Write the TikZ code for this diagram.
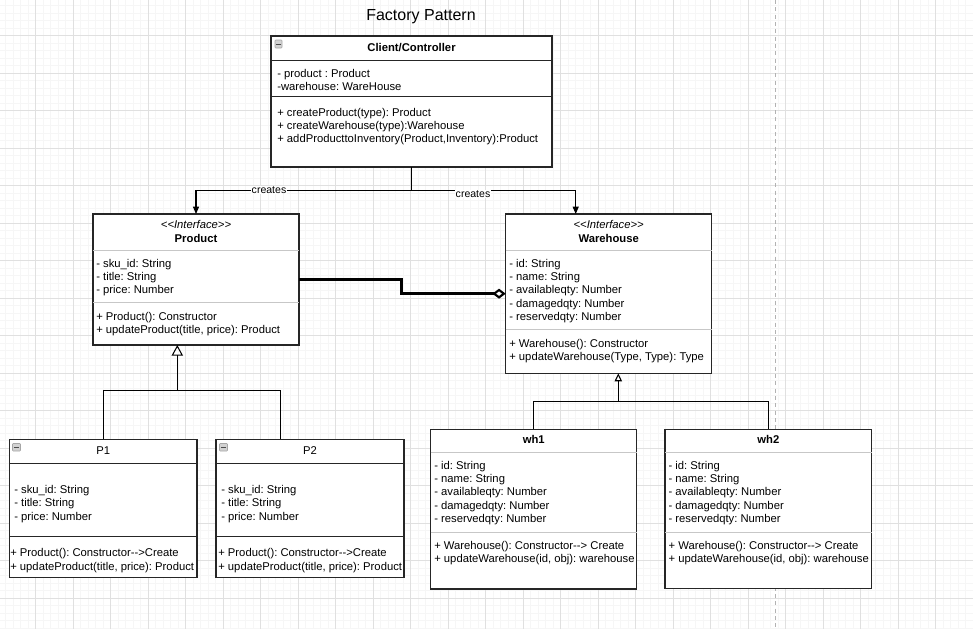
\documentclass[tikz,border=0pt]{standalone}
\usepackage{fontspec}
\newfontfamily\umlfont{Liberation Sans}
\usetikzlibrary{arrows.meta,fit}
\frenchspacing
\newcommand{\umlrows}[4]{\foreach \t [count=\i] in {#4}{\node[txt, anchor=base west] (#1\i) at (#2,{#3+4+13.45*(\i-1)}) {\frenchspacing\t};}}
\begin{document}
\begin{tikzpicture}[x=0.75pt,y=-0.75pt,
  minorgrid/.style={draw=black!3.5, line width=0.4pt},
  majorgrid/.style={draw=black!12, line width=0.6pt},
  classbox/.style={draw=black!85, fill=white, line width=0.8pt, inner sep=0pt, outer sep=0pt},
  divdark/.style={draw=black!85, line width=0.7pt},
  divlight/.style={draw=black!22, line width=0.75pt},
  txt/.style={font=\fontsize{8.45}{10}\umlfont, inner sep=0pt, text=black},
  hdr/.style={font=\fontsize{8.45}{10}\umlfont\bfseries, inner sep=0pt},
  hdrn/.style={font=\fontsize{8.45}{10}\umlfont, inner sep=0pt},
  ster/.style={font=\fontsize{8.45}{10}\umlfont\itshape, inner sep=0pt},
  conn/.style={draw=black, line width=0.8pt},
  lbl/.style={font=\fontsize{7.9}{9}\umlfont, fill=white, inner sep=0.6pt},
  icon/.style={draw=gray!70, fill=gray!35, rounded corners=0.5pt, line width=0.4pt},
]
\useasboundingbox[fill=white] (0,0) rectangle (973,629);
% grid
\foreach \k in {0,...,130}{\draw[minorgrid] ({-1.8+7.5*\k},0) -- ({-1.8+7.5*\k},629);}
\foreach \k in {0,...,84}{\draw[minorgrid] (0,{-1.8+7.5*\k}) -- (973,{-1.8+7.5*\k});}
\foreach \k in {0,...,26}{\draw[majorgrid] ({-1.8+37.5*\k},0) -- ({-1.8+37.5*\k},629);}
\foreach \k in {0,...,17}{\draw[majorgrid] (0,{-1.8+37.5*\k}) -- (973,{-1.8+37.5*\k});}
\draw[draw=black!30, line width=0.6pt, dash pattern=on 3pt off 2.5pt] (775,0) -- (775,629);

% title
\node[font=\fontsize{12}{14}\umlfont, inner sep=0pt] (title) at (421,17) {Factory Pattern};

% Client/Controller
\node[classbox, fit={(271,36) (552,167)}] (client) {};
\draw[divdark] (271,60) -- (552,60);
\draw[divdark] (271,96) -- (552,96);
\draw[icon] (275,40) rectangle (282,48);
\draw[black!70, line width=0.6pt] (276.3,44) -- (280.7,44);
\node[hdr] (clientname) at (411.5,48) {Client/Controller};
\umlrows{ca}{277}{73}{- product : Product, -warehouse: WareHouse}
\umlrows{cm}{277}{112}{+ createProduct(type): Product, + createWarehouse(type):Warehouse, {+ addProducttoInventory(Product,Inventory):Product}}

% Product
\node[classbox, fit={(93,214) (299,345)}] (prod) {};
\draw[divlight] (93,250) -- (299,250);
\draw[divlight] (93,302.7) -- (299,302.7);
\node[ster] (prodst) at (196,224) {<{}<Interface>{}>};
\node[hdr] (prodname) at (196,238) {Product};
\umlrows{pa}{96}{263}{- sku\_id: String, - title: String, - price: Number}
\umlrows{pm}{96}{316}{+ Product(): Constructor, {+ updateProduct(title, price): Product}}

% Warehouse
\node[classbox, fit={(505.7,214) (711.7,373.3)}] (wh) {};
\draw[divlight] (505.7,250) -- (711.7,250);
\draw[divlight] (505.7,329.7) -- (711.7,329.7);
\node[ster] (whst) at (608.7,224) {<{}<Interface>{}>};
\node[hdr] (whname) at (608.7,238) {Warehouse};
\umlrows{wa}{509}{263}{- id: String, - name: String, - availableqty: Number, - damagedqty: Number, - reservedqty: Number}
\umlrows{wm}{509}{343}{+ Warehouse(): Constructor, {+ updateWarehouse(Type, Type): Type}}

% P1
\node[classbox, fit={(9.3,439.3) (197,577.7)}] (p1) {};
\draw[divdark] (9.3,463.3) -- (197,463.3);
\draw[divdark] (9.3,536) -- (197,536);
\draw[icon] (12.5,443.5) rectangle (20.5,451);
\draw[black!70, line width=0.6pt] (14,447.2) -- (19,447.2);
\node[hdrn] (p1name) at (103.2,451) {P1};
\umlrows{p1a}{14}{489.3}{- sku\_id: String, - title: String, - price: Number}
\umlrows{p1m}{10}{552.7}{+ Product(): Constructor-\kern0pt-\kern0pt>Create, {+ updateProduct(title, price): Product}}

% P2
\node[classbox, fit={(216,439.3) (404,577.7)}] (p2) {};
\draw[divdark] (216,463.3) -- (404,463.3);
\draw[divdark] (216,536) -- (404,536);
\draw[icon] (219.5,443.5) rectangle (227.5,451);
\draw[black!70, line width=0.6pt] (221,447.2) -- (226,447.2);
\node[hdrn] (p2name) at (310,451) {P2};
\umlrows{p2a}{221}{489.3}{- sku\_id: String, - title: String, - price: Number}
\umlrows{p2m}{218}{552.7}{+ Product(): Constructor-\kern0pt-\kern0pt>Create, {+ updateProduct(title, price): Product}}

% wh1
\node[classbox, fit={(430.7,429.3) (636.7,589)}] (wh1) {};
\draw[divlight] (430.7,452.7) -- (636.7,452.7);
\draw[divlight] (430.7,532.3) -- (636.7,532.3);
\node[hdr] (wh1name) at (533.7,439) {wh1};
\umlrows{w1a}{434}{465}{- id: String, - name: String, - availableqty: Number, - damagedqty: Number, - reservedqty: Number}
\umlrows{w1m}{434}{545.5}{+ Warehouse(): Constructor-\kern0pt-\kern0pt> Create, {+ updateWarehouse(id, obj): warehouse}}

% wh2
\node[classbox, fit={(665,429.3) (871.7,588.3)}] (wh2) {};
\draw[divlight] (665,452.7) -- (871.7,452.7);
\draw[divlight] (665,532.3) -- (871.7,532.3);
\node[hdr] (wh2name) at (768.3,439) {wh2};
\umlrows{w2a}{668.3}{465}{- id: String, - name: String, - availableqty: Number, - damagedqty: Number, - reservedqty: Number}
\umlrows{w2m}{668.3}{545.5}{+ Warehouse(): Constructor-\kern0pt-\kern0pt> Create, {+ updateWarehouse(id, obj): warehouse}}

% creates connectors
\coordinate (cj) at (411.5,190.5);
\draw[conn, -{Triangle[length=5.5pt,width=4.5pt]}] (client.south) -- (cj) -| (prod.north);
\draw[conn, -{Triangle[length=5.5pt,width=4.5pt]}] (cj) -| (575.7,214) coordinate (whin);
\node[lbl] (cr1) at (269,190) {creates};
\node[lbl] (cr2) at (473,194) {creates};

% aggregation
\coordinate (agm) at (401.7,286);
\draw[draw=black, line width=2.3pt, -{Diamond[open, length=10pt, width=7.5pt, line width=1.6pt]}] (prod.east) -| (agm) |- (wh.west);

% product inheritance
\coordinate (pj) at (177.3,390.7);
\coordinate (p2in) at (280.3,439.3);
\draw[conn] (p1.north) |- (p2in |- pj) -- (p2in);
\draw[conn, -{Triangle[open, length=8pt, width=8.5pt, line width=0.8pt]}] (pj) -- (pj |- prod.south);

% warehouse inheritance
\coordinate (wj) at (618.3,401.7);
\draw[conn] (wh1.north) |- (wh2.north |- wj) -- (wh2.north);
\draw[conn, -{Triangle[open, length=6pt, width=5.5pt, line width=0.8pt]}] (wj) -- (wj |- wh.south);
\end{tikzpicture}
\end{document}
